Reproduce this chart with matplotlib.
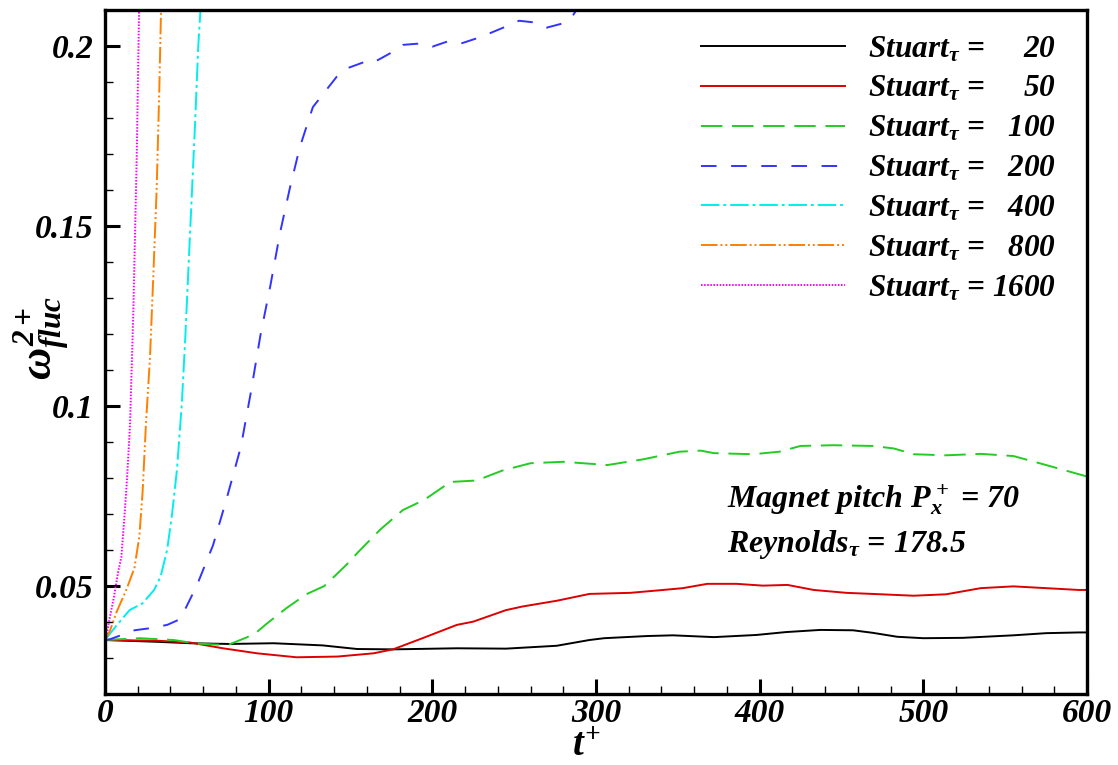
import matplotlib
matplotlib.use('Agg')
import matplotlib.pyplot as plt
from matplotlib.ticker import MultipleLocator, FuncFormatter

plt.rcParams['font.family'] = ['Liberation Serif', 'DejaVu Serif']
plt.rcParams['font.weight'] = 'bold'
plt.rcParams['font.style'] = 'italic'
plt.rcParams['mathtext.fontset'] = 'custom'
plt.rcParams['mathtext.it'] = 'Liberation Serif:bold:italic'
plt.rcParams['mathtext.rm'] = 'Liberation Serif:bold'
plt.rcParams['mathtext.bf'] = 'Liberation Serif:bold'

# values
stuart = [20, 50, 100, 200, 400, 800, 1600]

t_20 = [0, 32, 52, 76, 103, 133, 154, 176, 215, 245, 276, 296, 305, 331, 347,
        372, 398, 416, 437, 457, 469, 484, 500, 524, 555, 575, 595, 600]
w_20 = [0.0350, 0.0345, 0.0341, 0.0339, 0.0341, 0.0335, 0.0325, 0.0324, 0.0327,
        0.0326, 0.0334, 0.0350, 0.0355, 0.0361, 0.0363, 0.0358, 0.0364, 0.0372,
        0.0378, 0.0377, 0.0370, 0.0359, 0.0355, 0.0356, 0.0363, 0.0369, 0.0371, 0.0371]

t_50 = [0, 32, 52, 72, 93, 117, 142, 164, 176, 194, 215, 225, 245, 255, 276, 296,
        321, 341, 353, 368, 386, 402, 417, 433, 453, 474, 494, 514, 535, 555, 575,
        595, 600]
w_50 = [0.0350, 0.0348, 0.0343, 0.0327, 0.0313, 0.0302, 0.0304, 0.0313, 0.0324,
        0.0355, 0.0392, 0.0401, 0.0433, 0.0443, 0.0459, 0.0478, 0.0481, 0.0489,
        0.0494, 0.0506, 0.0506, 0.0501, 0.0503, 0.0489, 0.0481, 0.0477, 0.0473,
        0.0477, 0.0494, 0.0499, 0.0494, 0.0489, 0.0489]

t_100 = [0, 21, 42, 56, 75, 87, 93, 99, 111, 123, 134, 140, 150, 154, 168, 182,
         195, 211, 227, 243, 260, 280, 307, 329, 351, 364, 372, 396, 412, 425, 445,
         469, 482, 494, 514, 535, 555, 571, 586, 600]
w_100 = [0.0350, 0.0355, 0.0350, 0.0340, 0.0336, 0.0358, 0.0373, 0.0396, 0.0439,
         0.0477, 0.0500, 0.0526, 0.0570, 0.0591, 0.0656, 0.0711, 0.0739, 0.0789,
         0.0793, 0.0821, 0.0841, 0.0845, 0.0836, 0.0852, 0.0873, 0.0876, 0.0869,
         0.0866, 0.0873, 0.0889, 0.0891, 0.0889, 0.0882, 0.0866, 0.0863, 0.0867,
         0.0861, 0.0841, 0.0822, 0.0804]

t_200 = [0, 3, 18, 28, 38, 46, 56, 66, 74, 83, 89, 95, 101, 107, 113, 119, 127,
         142, 148, 160, 164, 176, 182, 193, 200, 209, 217, 227, 235, 245, 253, 263,
         270, 280, 286, 292]
w_200 = [0.0350, 0.0352, 0.0377, 0.0383, 0.0392, 0.0408, 0.0500, 0.0613, 0.0737,
         0.0886, 0.1035, 0.1197, 0.1333, 0.1482, 0.1606, 0.1718, 0.1830, 0.1917,
         0.1938, 0.1958, 0.1954, 0.1984, 0.2003, 0.2007, 0.1998, 0.2012, 0.2006,
         0.2021, 0.2035, 0.2054, 0.2070, 0.2065, 0.2051, 0.2063, 0.2086, 0.2125]

t_400 = [0, 7, 15, 23, 30, 34, 38, 41, 44, 47, 49, 51, 53, 55, 57, 59]
w_400 = [0.0350, 0.0390, 0.0433, 0.0452, 0.0489, 0.0526, 0.0601, 0.0700, 0.0824,
         0.1010, 0.1184, 0.1383, 0.1582, 0.1780, 0.2000, 0.2150]

t_800 = [0, 3, 7, 13, 18, 21, 23, 25, 27.5, 29.5, 31.6, 33.2, 34.2, 35]
w_800 = [0.0350, 0.0375, 0.0427, 0.0489, 0.0550, 0.0638, 0.0762, 0.0948, 0.1134,
         0.1358, 0.1606, 0.1880, 0.2090, 0.2200]

t_1600 = [0, 1, 3, 5.5, 8, 10, 12, 13.5, 15.3, 17.3, 19.4, 20.8, 21.5]
w_1600 = [0.0350, 0.0365, 0.0414, 0.0470, 0.0538, 0.0580, 0.0700, 0.0800, 0.0948,
          0.1259, 0.1693, 0.2090, 0.2250]

times = [t_20, t_50, t_100, t_200, t_400, t_800, t_1600]
values = [w_20, w_50, w_100, w_200, w_400, w_800, w_1600]

colors = ['black', '#dd0000', '#22cc22', '#3333ff', '#00eeee', '#ff8000', '#ff00ff']
styles = ['-', '-', (0, (11, 5)), (0, (8, 7.5)), (0, (9.5, 2, 1.5, 2)),
          (0, (8.5, 1.5, 1, 1.5, 1, 1.5)), (0, (0.8, 0.8))]

fig = plt.figure(figsize=(11.18, 7.65), dpi=100)
ax = fig.add_axes([0.0939, 0.0928, 0.8784, 0.8942])

for n, t, w, c, ls in zip(stuart, times, values, colors, styles):
    label = 'Stuart$_{\\tau}$ = ' + str(n).rjust(4, '\u2007')
    ax.plot(t, w, color=c, linestyle=ls, linewidth=1.4, label=label)

ax.set_xlim(0, 600)
ax.set_ylim(0.02, 0.21)

ax.xaxis.set_major_locator(MultipleLocator(100))
ax.xaxis.set_minor_locator(MultipleLocator(20))
ax.yaxis.set_major_locator(MultipleLocator(0.05))
ax.yaxis.set_minor_locator(MultipleLocator(0.01))
ax.yaxis.set_major_formatter(FuncFormatter(lambda v, p: '%g' % round(v, 3)))

ax.tick_params(which='both', direction='in', top=False, right=False, labelsize=24)
ax.tick_params(which='major', length=11, width=2.2)
ax.tick_params(axis='x', which='major', pad=3)
ax.tick_params(axis='y', which='major', pad=8)
ax.tick_params(which='minor', length=6, width=1.0)
for s in ax.spines.values():
    s.set_linewidth(2.4)

ax.set_xlabel('$t^{+}$', fontsize=28)
ax.xaxis.set_label_coords(0.49, -0.049)
ax.set_ylabel('$\\omega^{2+}_{fluc}$', fontsize=32, va='center')
ax.yaxis.set_label_coords(-0.064, 0.52)

ax.legend(loc='upper right', bbox_to_anchor=(0.997, 1.005), frameon=False,
          fontsize=22.5, handlelength=4.6, handletextpad=0.75, labelspacing=0.33)

ax.text(0.633, 0.284, 'Magnet pitch $P_x^+$ = 70', transform=ax.transAxes,
        fontsize=23, va='center', ha='left')
ax.text(0.633, 0.218, 'Reynolds$_{\\tau}$ = 178.5', transform=ax.transAxes,
        fontsize=23, va='center', ha='left')

fig.savefig('out.png', dpi=100)
